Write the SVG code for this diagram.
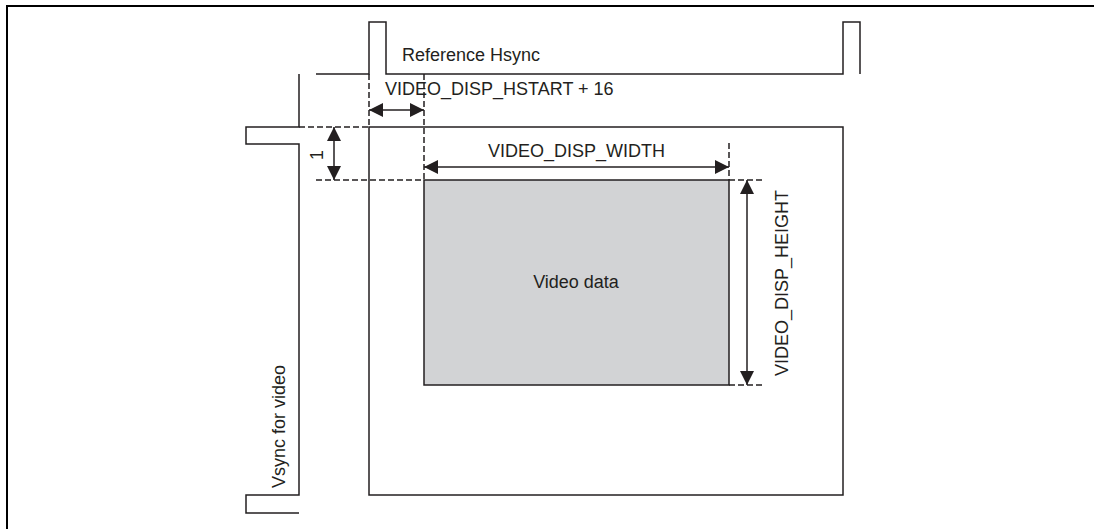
<svg xmlns="http://www.w3.org/2000/svg" width="1094" height="529" viewBox="0 0 1094 529">
<defs>
<style>
.ln{fill:none;stroke:#231f20;stroke-width:1.5}
.ds{fill:none;stroke:#231f20;stroke-width:1.5;stroke-dasharray:6 3}
.ar{fill:none;stroke:#231f20;stroke-width:1.5;marker-start:url(#ah);marker-end:url(#ah)}
.tx{font-family:"Liberation Sans",Arial,sans-serif;font-size:18px;fill:#231f20}
</style>
<marker id="ah" markerUnits="userSpaceOnUse" markerWidth="15" markerHeight="14" refX="14" refY="7" orient="auto-start-reverse" viewBox="0 0 15 14">
<path d="M0,0 L14,7 L0,14 z" fill="#231f20"/>
</marker>
</defs>
<rect width="1094" height="529" fill="#fff"/>
<path d="M7,529 V6 H1094" fill="none" stroke="#000" stroke-width="2"/>
<g id="hsync">
<path class="ln" d="M316,74 H369 V22 H386 V74 H843 V22 H860 V74"/>
<text class="tx" x="402" y="61">Reference Hsync</text>
</g>
<g id="vsync">
<path class="ln" d="M299,74 V127 H246 V144 H299 V495 H246 V513 H299"/>
<text class="tx" transform="translate(285,488) rotate(-90)">Vsync for video</text>
</g>
<g id="frame">
<rect class="ln" x="369" y="127" width="474" height="368"/>
</g>
<g id="video-data">
<rect x="424" y="180" width="305" height="205" fill="#d2d3d5" stroke="#231f20" stroke-width="1.5"/>
<text class="tx" x="576" y="288" text-anchor="middle">Video data</text>
</g>
<g id="connectors">
<path class="ds" d="M369,74 V127"/>
<path class="ds" d="M424,74 V180"/>
<path class="ds" d="M729,143 V180"/>
<path class="ds" d="M299,127 H369"/>
<path class="ds" d="M316,180 H424"/>
<path class="ds" d="M729,180 H765"/>
<path class="ds" d="M729,385 H765"/>
<path class="ar" d="M369,110 H424"/>
<path class="ar" d="M334,127 V180"/>
<path class="ar" d="M424,167 H729"/>
<path class="ar" d="M747,180 V385"/>
</g>
<g id="labels">
<text class="tx" x="385" y="95">VIDEO_DISP_HSTART + 16</text>
<text class="tx" x="576.5" y="157" text-anchor="middle">VIDEO_DISP_WIDTH</text>
<text class="tx" transform="translate(788,283) rotate(-90)" text-anchor="middle">VIDEO_DISP_HEIGHT</text>
<text class="tx" transform="translate(323,155) rotate(-90)" text-anchor="middle">1</text>
</g>
</svg>
